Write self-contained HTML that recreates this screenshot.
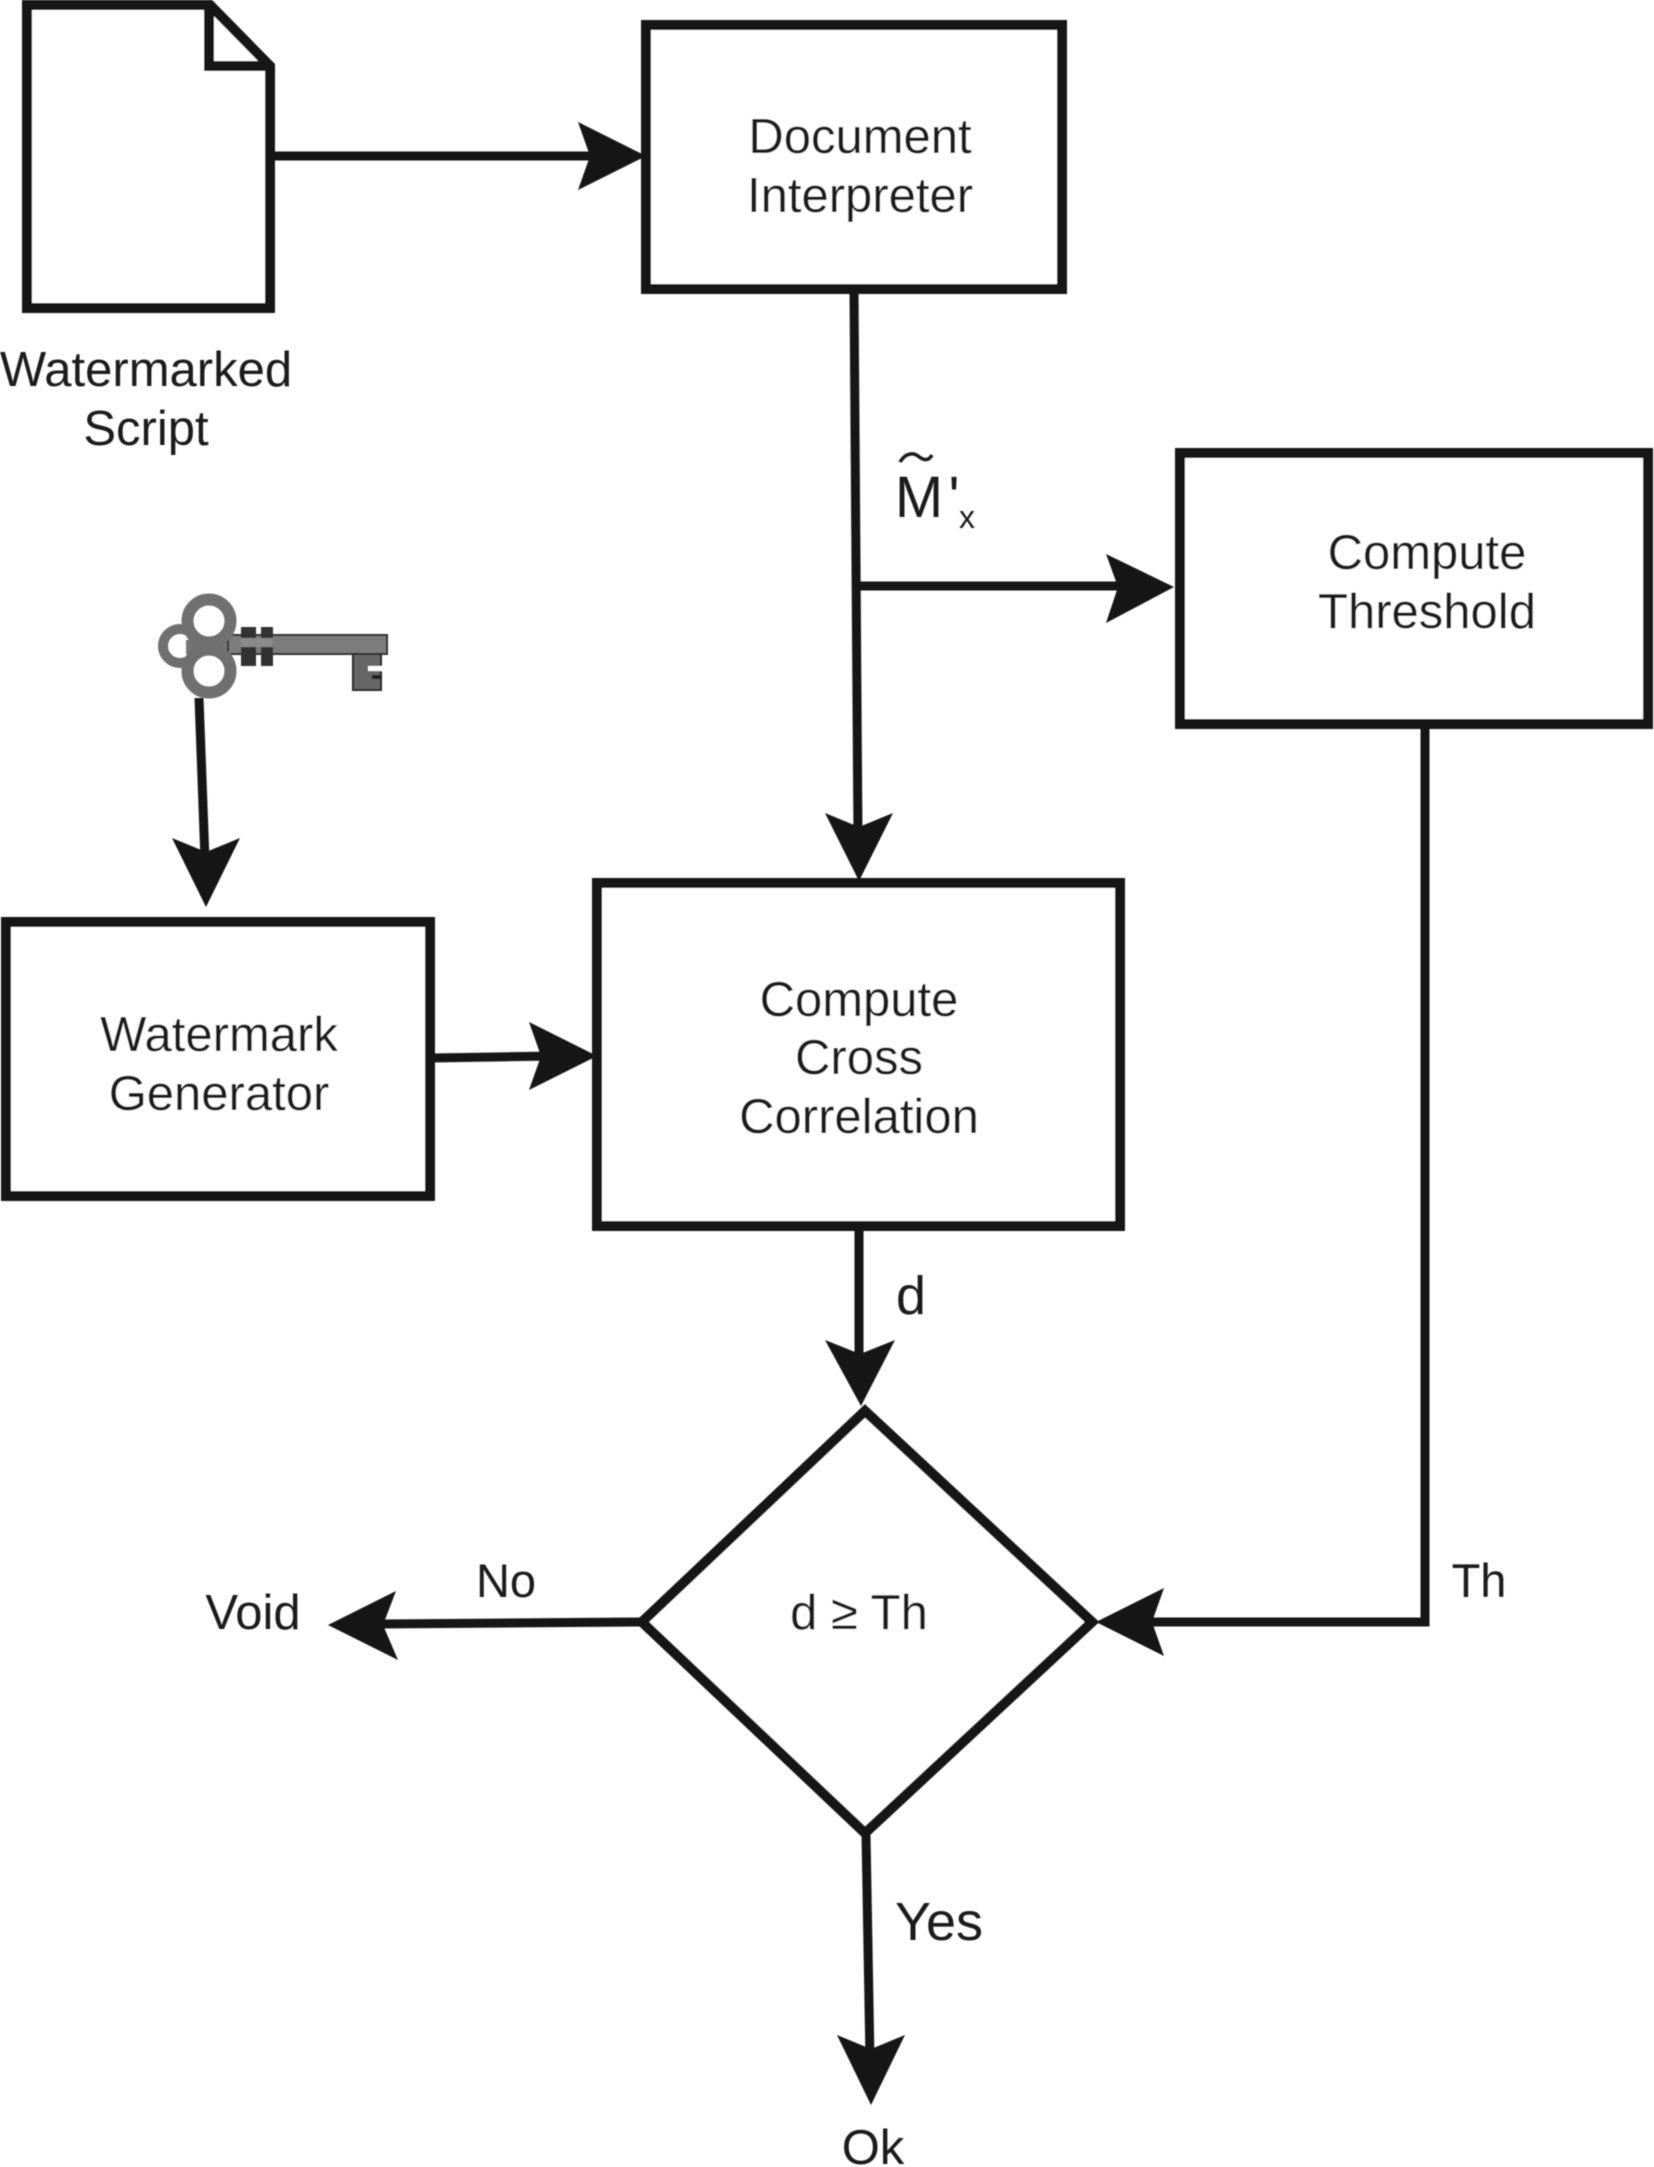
<!DOCTYPE html>
<html><head><meta charset="utf-8"><style>
html,body{margin:0;padding:0;background:#fff}
svg{display:block}
text{font-family:"Liberation Sans",sans-serif;font-size:49px;fill:#1a1a1a;text-anchor:middle}
.b{fill:#fff;stroke:#141414;stroke-width:10}
.l{fill:none;stroke:#141414;stroke-width:9}
.h{fill:#141414}
</style></head><body>
<svg width="1654" height="2167" viewBox="0 0 1654 2167" xmlns="http://www.w3.org/2000/svg">
<defs><filter id="s" filterUnits="userSpaceOnUse" x="0" y="0" width="1654" height="2167"><feGaussianBlur stdDeviation="0.6"/></filter></defs>
<g filter="url(#s)">
<!-- document icon -->
<path class="b" d="M27 5H210L270 66V308H27Z"/>
<path class="l" style="stroke-width:10" d="M209 5V66H270"/>
<!-- boxes -->
<rect class="b" x="646" y="25" width="416" height="264"/>
<rect class="b" x="1180" y="453" width="468" height="271"/>
<rect class="b" x="597" y="883" width="523" height="343"/>
<rect class="b" x="6" y="922" width="424" height="274"/>
<path class="b" d="M865 1411L1092 1622L865 1833L642 1622Z"/>
<!-- connectors -->
<path class="l" d="M274 156H600"/>
<path class="h" d="M646 156L578 122L590 156L578 190Z"/>
<path class="l" d="M854 290L858 840"/>
<path class="h" d="M859 881L825 813L859 827L893 813Z"/>
<path class="l" d="M856 586H1130"/>
<path class="h" d="M1174 587L1106 554L1118 587L1106 623Z"/>
<path class="l" d="M199 698L205 860"/>
<path class="h" d="M206 907L172 838L206 852L240 838Z"/>
<path class="l" d="M431 1058L555 1056"/>
<path class="h" d="M597 1056L529 1022L541 1056L529 1090Z"/>
<path class="l" d="M859 1227V1365"/>
<path class="h" d="M861 1406L825 1340L860 1354L895 1340Z"/>
<path class="l" d="M1425 724V1622H1140"/>
<path class="h" d="M1096 1622L1164 1588L1152 1622L1164 1656Z"/>
<path class="l" d="M641 1622L375 1624"/>
<path class="h" d="M328 1625L396 1591L383 1625L398 1660Z"/>
<path class="l" d="M866 1835L870 2060"/>
<path class="h" d="M871 2105L837 2035L871 2049L905 2035Z"/>
<!-- key -->
<g fill="none" stroke="#6f6f6f">
<path d="M186 640L230 636V656L186 654Z" fill="#777" stroke="none"/>
<rect x="228" y="635" width="159" height="19" fill="#7d7d7d" stroke="#333" stroke-width="2"/>
<rect x="241" y="627" width="15" height="39" fill="#333" stroke="none"/>
<rect x="261" y="627" width="12" height="39" fill="#333" stroke="none"/>
<rect x="241" y="638" width="32" height="9" fill="#8a8a8a" stroke="none"/>
<path d="M353 654H381V690H353Z" fill="#666" stroke="#2a2a2a" stroke-width="2"/>
<rect x="368" y="666" width="15" height="5" fill="#fff" stroke="none"/>
<rect x="372" y="675" width="10" height="4" fill="#222" stroke="none"/>
<circle cx="209" cy="621" r="21.5" stroke-width="12"/>
<circle cx="180" cy="646" r="17" stroke-width="10"/>
<circle cx="209" cy="671" r="21.5" stroke-width="12"/>
</g>
<!-- labels -->
<text x="860" y="153">Document</text>
<text x="860" y="212">Interpreter</text>
<text x="146" y="386">Watermarked</text>
<text x="146" y="445">Script</text>
<text x="1427" y="569">Compute</text>
<text x="1427" y="628">Threshold</text>
<text x="219" y="1051">Watermark</text>
<text x="219" y="1110">Generator</text>
<text x="859" y="1016">Compute</text>
<text x="859" y="1074">Cross</text>
<text x="859" y="1133">Correlation</text>
<text x="911" y="1314" style="font-size:54px">d</text>
<text x="859" y="1629">d ≥ Th</text>
<text x="506" y="1597" style="font-size:47px">No</text>
<text x="253" y="1629">Void</text>
<text x="1479" y="1597" style="font-size:47px">Th</text>
<text x="939" y="1940" style="font-size:54px">Yes</text>
<text x="873" y="2164">Ok</text>
<text x="919" y="517" style="font-size:58px">M</text>
<text x="954" y="517" style="font-size:58px">'</text>
<text x="967" y="528" style="font-size:32px">x</text>
<path d="M900 462C906 452 914 453 918 456C923 460 928 462 932 455" fill="none" stroke="#1a1a1a" stroke-width="3.5"/>
</g>
</svg>
</body></html>
